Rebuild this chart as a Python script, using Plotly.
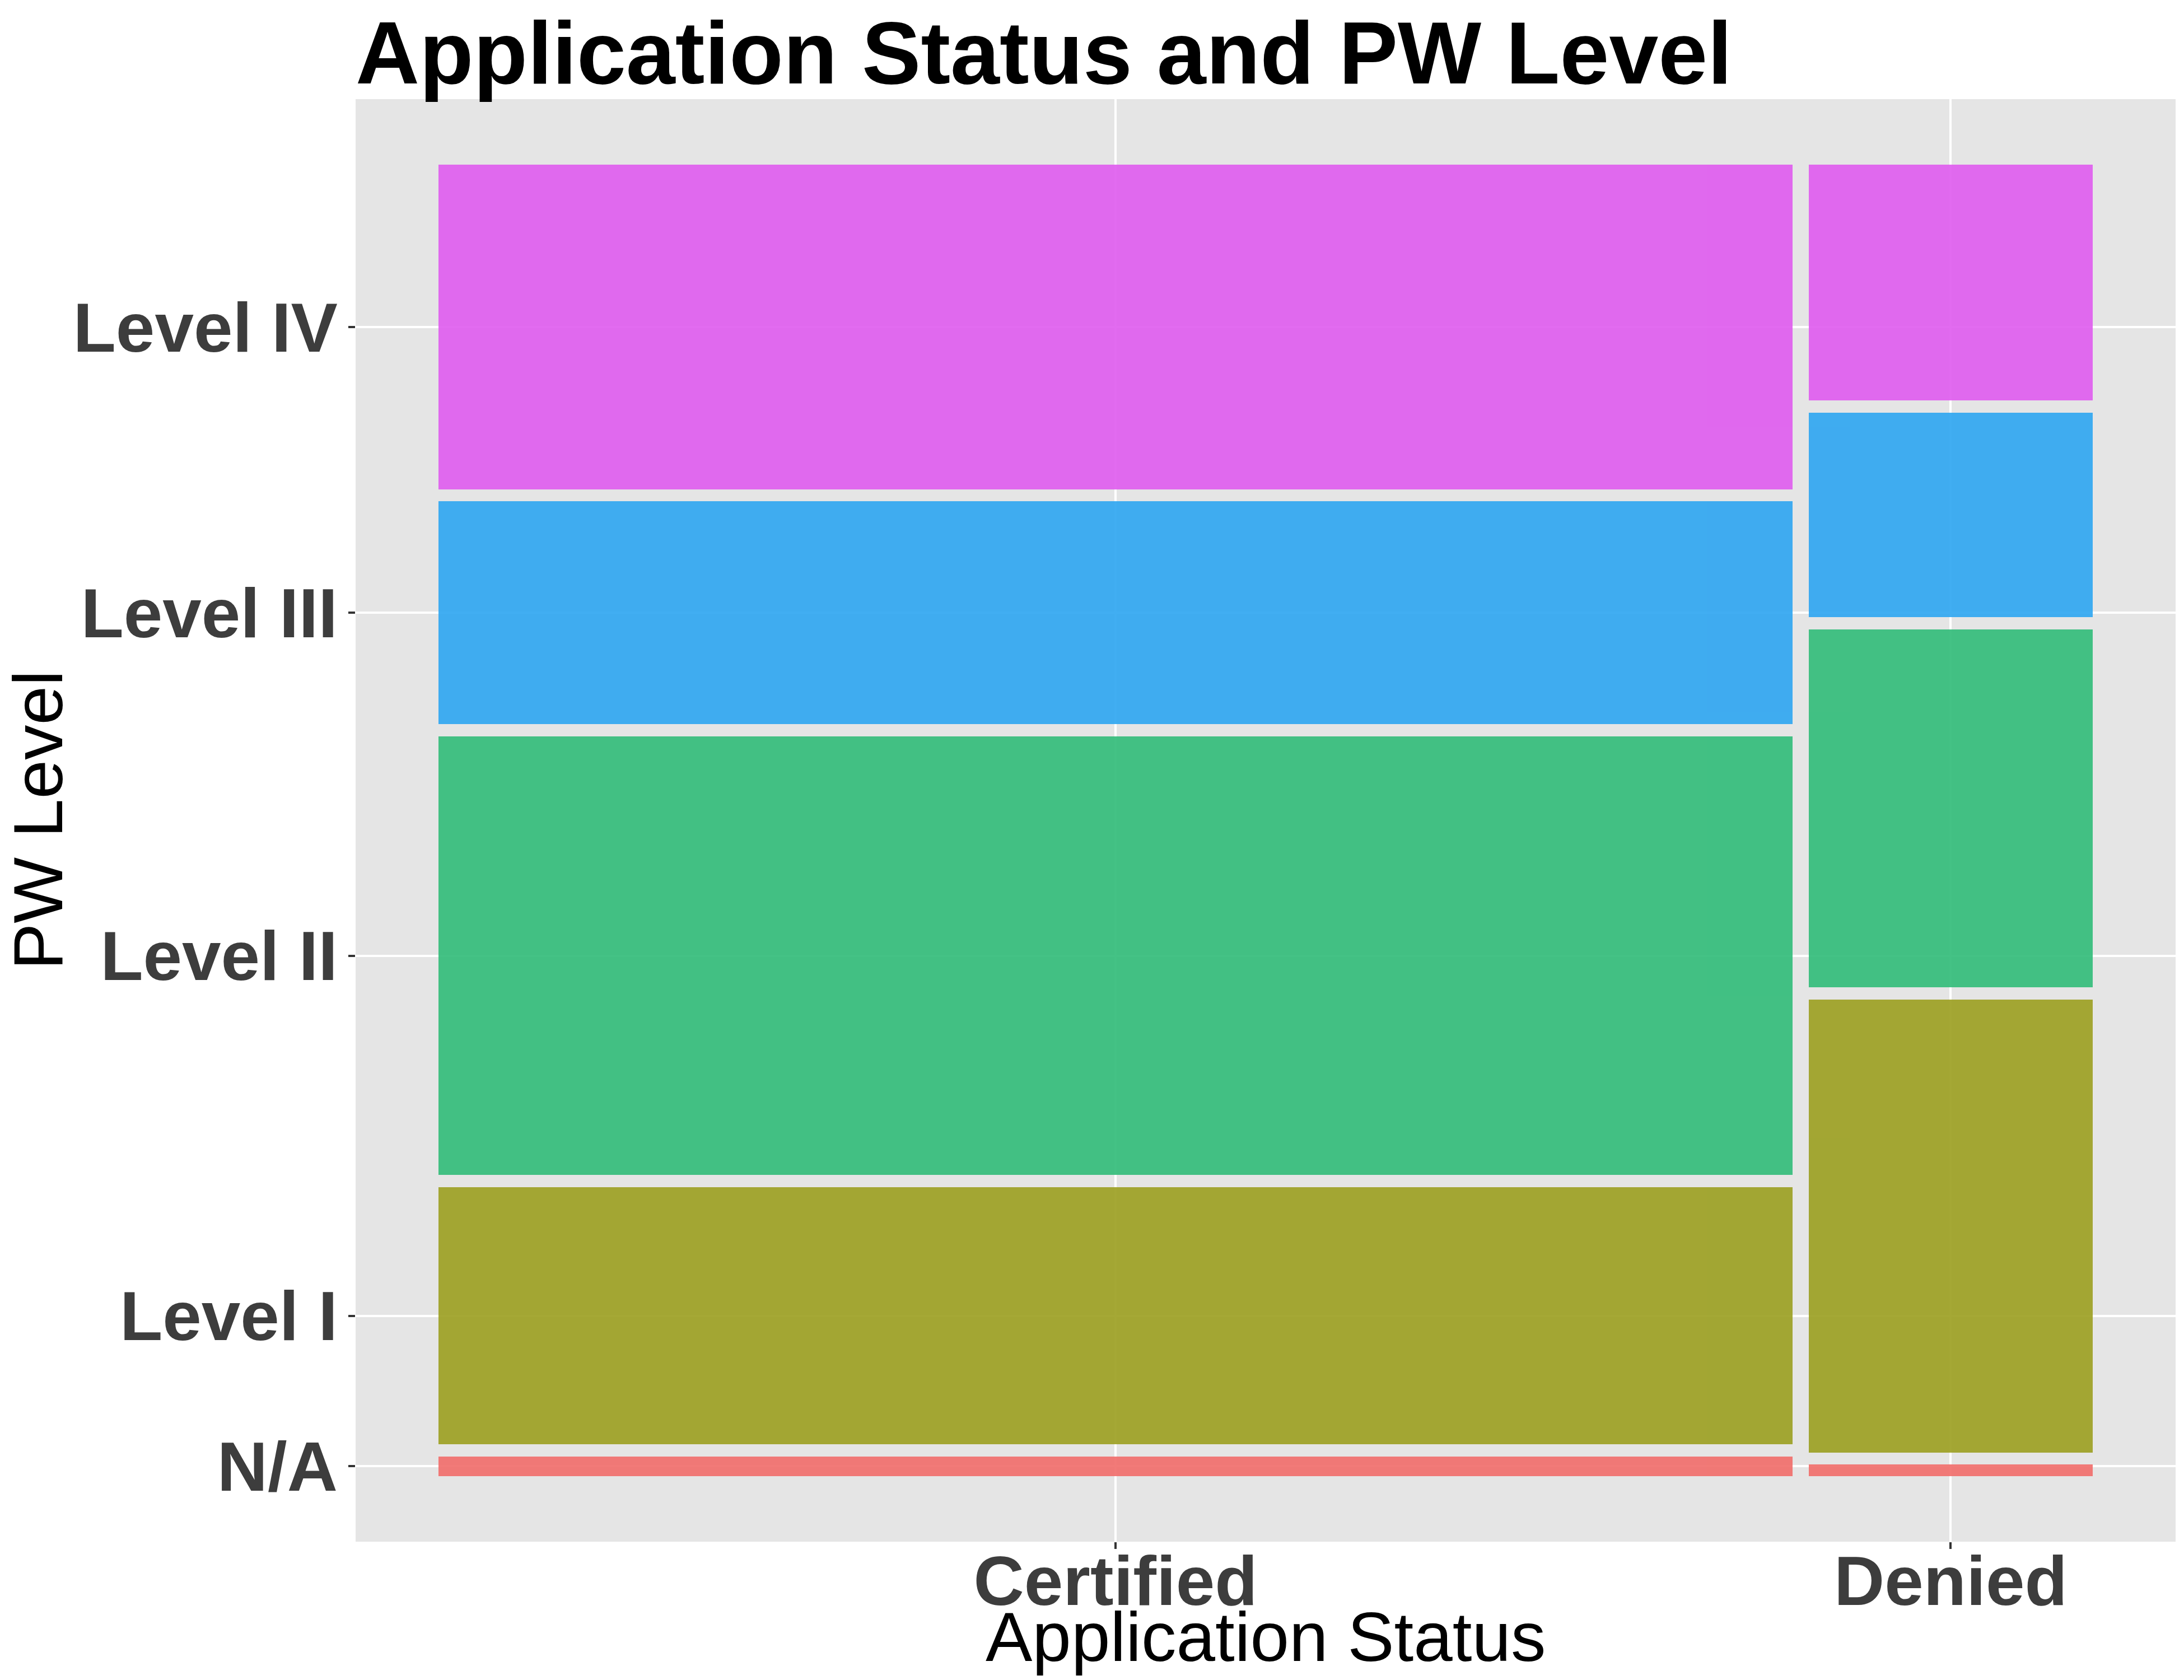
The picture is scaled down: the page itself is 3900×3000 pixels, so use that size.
import plotly.graph_objects as go

# ---- data (read from the mosaic) ----
statuses = ["Certified", "Denied"]
levels = ["N/A", "Level I", "Level II", "Level III", "Level IV"]  # bottom -> top
certified_counts = [128, 1685, 2869, 1459, 2124]
denied_counts = [16, 622, 492, 281, 324]
level_colors = ["#F16F6C", "#9DA124", "#34BD7B", "#31A7F1", "#E05EEF"]

counts = [certified_counts, denied_counts]

# ---- mosaic geometry (ggmosaic-like: widths ~ column totals, heights ~ conditional shares) ----
gap_x = 0.0095
gap_y = 0.0092
col_tot = [sum(c) for c in counts]
grand = sum(col_tot)
usable_x = 1 - gap_x * (len(statuses) - 1)
col_w, col_x0 = [], []
x = 0.0
for t in col_tot:
    w = usable_x * t / grand
    col_x0.append(x)
    col_w.append(w)
    x += w + gap_x
col_c = [x0 + w / 2 for x0, w in zip(col_x0, col_w)]

usable_y = 1 - gap_y * (len(levels) - 1)
bases = [[0] * len(levels) for _ in statuses]
heights = [[0] * len(levels) for _ in statuses]
for j, c in enumerate(counts):
    y = 0.0
    for i, v in enumerate(c):
        h = usable_y * v / col_tot[j]
        bases[j][i] = y
        heights[j][i] = h
        y += h + gap_y

fig = go.Figure()
for i, lev in enumerate(levels):
    fig.add_trace(go.Bar(
        x=col_c,
        y=[heights[j][i] for j in range(len(statuses))],
        base=[bases[j][i] for j in range(len(statuses))],
        width=col_w,
        name=lev,
        marker=dict(color=level_colors[i], line=dict(width=0)),
        opacity=0.92,
        showlegend=False,
    ))

# y ticks at centres of the first column's segments
ytick_vals = [bases[0][i] + heights[0][i] / 2 for i in range(len(levels))]

FONT = "Liberation Sans, Arial, sans-serif"
W, H = 3900, 3000
ML, MR, MT, MB = 627, 23, 169, 255
PW, PH = W - ML - MR, H - MT - MB

fig.update_layout(
    width=W, height=H, autosize=False,
    margin=dict(l=ML, r=MR, t=MT, b=MB, pad=0),
    paper_bgcolor="white",
    plot_bgcolor="#E5E5E5",
    barmode="overlay",
    bargap=0,
    font=dict(family=FONT, color="black"),
    title=dict(
        text="<b>Application Status and PW Level</b>",
        font=dict(family=FONT, size=158, color="black"),
        x=0, xref="paper", xanchor="left",
        y=1 - 86 / H, yref="container", yanchor="middle",
        automargin=False,
    ),
    xaxis=dict(
        range=[-0.05, 1.05],
        tickmode="array", tickvals=col_c, ticktext=statuses,
        ticks="outside", ticklen=12, tickwidth=4, tickcolor="#333333",
        ticklabelstandoff=-50,
        tickfont=dict(family=FONT, size=125, color="#3D3D3D", weight="bold"),
        showgrid=True, gridcolor="white", gridwidth=4,
        zeroline=False, showline=False, automargin=False,
    ),
    yaxis=dict(
        range=[-0.05, 1.05],
        tickmode="array", tickvals=ytick_vals, ticktext=levels,
        ticks="outside", ticklen=12, tickwidth=4, tickcolor="#333333",
        ticklabelstandoff=-6,
        tickfont=dict(family=FONT, size=125, color="#3D3D3D", weight="bold"),
        showgrid=True, gridcolor="white", gridwidth=4,
        zeroline=False, showline=False, automargin=False,
    ),
    annotations=[
        dict(text="Application Status", xref="paper", yref="paper",
             x=0.5, y=-(2986 - (H - MB)) / PH, xanchor="center", yanchor="bottom",
             showarrow=False, font=dict(family=FONT, size=125, color="black")),
        dict(text="PW Level", xref="paper", yref="paper", textangle=-90,
             x=(59 - ML) / PW, y=0.5, xanchor="center", yanchor="middle",
             showarrow=False, font=dict(family=FONT, size=125, color="black")),
    ],
)

fig.write_html("out.html")
